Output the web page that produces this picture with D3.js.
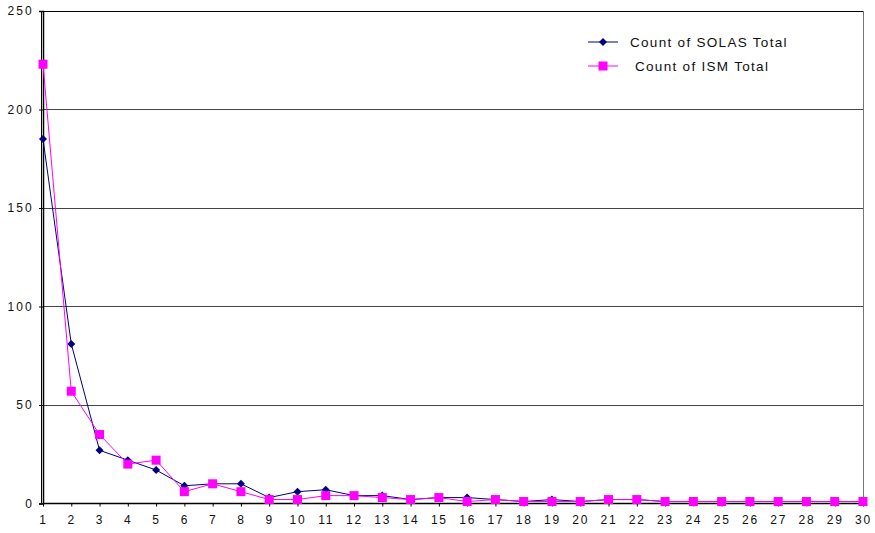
<!DOCTYPE html>
<html>
<head>
<meta charset="utf-8">
<script src="https://cdn.jsdelivr.net/npm/d3@7"></script>
<style>
  html, body { margin: 0; padding: 0; background: #fff; }
  svg { display: block; font-family: Arial, "Liberation Sans", sans-serif; }
</style>
</head>
<body>
<svg id="chart" width="875" height="533"></svg>
<script>
// Categories 1..30 along the x axis
const categories = [1,2,3,4,5,6,7,8,9,10,11,12,13,14,15,16,17,18,19,20,21,22,23,24,25,26,27,28,29,30];
const solasTotal = [185,81,27,22,17,9,10,10,3,6,7,4,4,2,3,3,2,1,2,1,2,2,1,1,1,1,1,1,1,1];
const ismTotal   = [223,57,35,20,22,6,10,6,2,2,4,4,3,2,3,1,2,1,1,1,2,2,1,1,1,1,1,1,1,1];
const yTicks = [0,50,100,150,200,250];
const seriesNames = ["Count of SOLAS Total", "Count of ISM Total"];

const svg = d3.select("#chart");
const plotLeft = 43, plotRight = 863, plotTop = 11, plotBottom = 503.5;

const x = d3.scalePoint().domain(categories).range([plotLeft, plotRight]);
const y = d3.scaleLinear().domain([0, 250]).range([plotBottom, plotTop]);

// Diamond marker: a square turned 45 degrees
const diamondPath = r => `M0,${-r}L${r},0L0,${r}L${-r},0Z`;
const sq = 9;

// Horizontal gridlines
svg.append("g").selectAll("line").data(yTicks.filter(d => d > 0)).join("line")
  .attr("x1", plotLeft).attr("x2", plotRight)
  .attr("y1", d => Math.round(y(d)) + 0.5).attr("y2", d => Math.round(y(d)) + 0.5)
  .attr("stroke", d => d === 250 ? "#000" : "#444").attr("stroke-width", 1);

// Right border of plot area
svg.append("line")
  .attr("x1", plotRight + 0.5).attr("x2", plotRight + 0.5)
  .attr("y1", Math.round(y(250))).attr("y2", plotBottom)
  .attr("stroke", "#777").attr("stroke-width", 1);

// Y axis
const yAxis = d3.axisLeft(y).tickValues(yTicks).tickSize(4).tickPadding(5);
const gy = svg.append("g").attr("transform", `translate(${plotLeft},0)`).call(yAxis);
gy.select(".domain").attr("stroke", "#000").attr("stroke-width", 1.5);
gy.selectAll(".tick line").attr("stroke", "#000");
gy.selectAll(".tick text").attr("font-size", 12).attr("fill", "#111")
  .style("letter-spacing", "2.2px");
svg.append("line").attr("x1", plotLeft - 1.5).attr("x2", plotLeft - 1.5)
  .attr("y1", y(250)).attr("y2", plotBottom).attr("stroke", "#000").attr("stroke-width", 1);

// X axis
const xAxis = d3.axisBottom(x).tickSize(3).tickPadding(9);
const gx = svg.append("g").attr("transform", `translate(0,${plotBottom})`).call(xAxis);
gx.select(".domain").attr("stroke", "#000").attr("stroke-width", 1.5)
  .attr("d", `M${plotLeft},0H${plotRight}`);
gx.selectAll(".tick line").attr("stroke", "#000");
gx.selectAll(".tick text").attr("font-size", 12).attr("fill", "#111")
  .style("letter-spacing", "1.8px");

const line = d3.line().x((d, i) => x(categories[i])).y(d => y(d));

// SOLAS series: navy line with diamonds
svg.append("path").datum(solasTotal)
  .attr("d", line).attr("fill", "none").attr("stroke", "#000080").attr("stroke-width", 1);
svg.append("g").selectAll("path").data(solasTotal).join("path")
  .attr("d", diamondPath(4))
  .attr("transform", (d, i) => `translate(${x(categories[i])},${y(d)})`)
  .attr("fill", "#000080");

// ISM series: magenta line with squares
svg.append("path").datum(ismTotal)
  .attr("d", line).attr("fill", "none").attr("stroke", "#FF00FF").attr("stroke-width", 1);
svg.append("g").selectAll("rect").data(ismTotal).join("rect")
  .attr("x", (d, i) => x(categories[i]) - sq / 2).attr("y", d => y(d) - sq / 2)
  .attr("width", sq).attr("height", sq).attr("fill", "#FF00FF");

// Legend
const legend = svg.append("g");
const lg = [
  { name: seriesNames[0], color: "#000080", y: 42, sym: "diamond", tx: 630 },
  { name: seriesNames[1], color: "#FF00FF", y: 66, sym: "square", tx: 635 }
];
lg.forEach(s => {
  legend.append("line").attr("x1", 588).attr("x2", 618).attr("y1", s.y).attr("y2", s.y)
    .attr("stroke", s.color).attr("stroke-width", 1);
  if (s.sym === "diamond") {
    legend.append("path").attr("d", diamondPath(4))
      .attr("transform", `translate(603,${s.y})`).attr("fill", s.color);
  } else {
    legend.append("rect").attr("x", 603 - sq / 2).attr("y", s.y - sq / 2)
      .attr("width", sq).attr("height", sq).attr("fill", s.color);
  }
  legend.append("text").attr("x", s.tx).attr("y", s.y + 5).attr("font-size", 13.5)
    .attr("fill", "#111").style("letter-spacing", "1.3px").text(s.name);
});
</script>
</body>
</html>
